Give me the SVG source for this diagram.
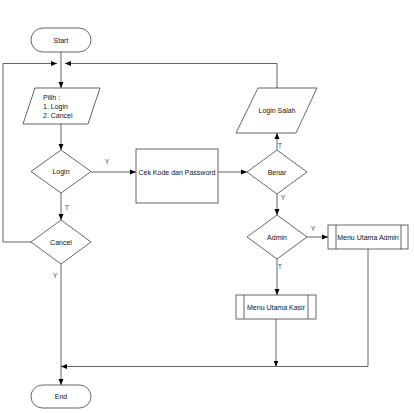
<svg xmlns="http://www.w3.org/2000/svg" width="414" height="413" viewBox="0 0 414 413">
<style>
.s{fill:#fff;stroke:#404040;stroke-width:0.8}
.c{fill:none;stroke:#404040;stroke-width:0.8}
text{font-family:"Liberation Sans",Arial,sans-serif;font-size:7px;fill:#111}
.m{text-anchor:middle}
.l{fill:#555}
</style>
<defs>
<marker id="a" viewBox="0 0 6 6" refX="6" refY="3" markerWidth="6" markerHeight="6" markerUnits="userSpaceOnUse" orient="auto">
<path d="M0,0.5 L6,3 L0,5.5 Z" fill="#000"/>
</marker>
</defs>
<rect width="414" height="413" fill="#fff"/>
<g id="connectors">
<path class="c" d="M61,52 V88" marker-end="url(#a)"/>
<path class="c" d="M31,242 H3 V63.5 H57" marker-end="url(#a)"/>
<path class="c" d="M277,88 V63.5 H65" marker-end="url(#a)"/>
<path class="c" d="M61,124 V150" marker-end="url(#a)"/>
<path class="c" d="M91,172 H136" marker-end="url(#a)"/>
<path class="c" d="M61,193 V220" marker-end="url(#a)"/>
<path class="c" d="M218,172 H247" marker-end="url(#a)"/>
<path class="c" d="M277,150 V133" marker-end="url(#a)"/>
<path class="c" d="M277,194 V215" marker-end="url(#a)"/>
<path class="c" d="M307,237 H328" marker-end="url(#a)"/>
<path class="c" d="M277,259 V295" marker-end="url(#a)"/>
<path class="c" d="M276,319 V366.5" marker-end="url(#a)"/>
<path class="c" d="M368,249 V366.5 H61" marker-end="url(#a)"/>
<path class="c" d="M61,264 V385" marker-end="url(#a)"/>
<text x="107" y="164" class="m l">Y</text>
<text x="67" y="210" class="m l">T</text>
<text x="50" y="235" class="m l">T</text>
<text x="55" y="278" class="m l">Y</text>
<text x="280" y="148" class="m l">T</text>
<text x="283" y="200" class="m l">Y</text>
<text x="313" y="231" class="m l">Y</text>
<text x="280" y="269" class="m l">T</text>
</g>
<g id="start">
<rect class="s" x="31" y="28" width="60" height="24" rx="12"/>
<text x="61" y="42.5" class="m">Start</text>
</g>
<g id="pilih">
<polygon class="s" points="35,88 100,88 88,124 23,124"/>
<text x="43" y="100">Pilih :</text>
<text x="43" y="109">1. Login</text>
<text x="43" y="118">2. Cancel</text>
</g>
<g id="login">
<polygon class="s" points="61,150 91,171.5 61,193 31,171.5"/>
<text x="61" y="174" class="m">Login</text>
</g>
<g id="cancel">
<polygon class="s" points="61,220 91,242 61,264 31,242"/>
<text x="61" y="244.5" class="m">Cancel</text>
</g>
<g id="cek">
<rect class="s" x="136" y="149" width="82" height="54"/>
<text x="177" y="174.5" class="m">Cek Kode dan Password</text>
</g>
<g id="benar">
<polygon class="s" points="277,150 307,172 277,194 247,172"/>
<text x="277" y="174.5" class="m">Benar</text>
</g>
<g id="loginsalah">
<polygon class="s" points="258,88 317,88 296,133 236,133"/>
<text x="277" y="113" class="m">Login Salah</text>
</g>
<g id="admin">
<polygon class="s" points="277,215 307,237 277,259 247,237"/>
<text x="277" y="239.5" class="m">Admin</text>
</g>
<g id="menuadmin">
<rect class="s" x="328" y="225" width="80" height="24"/>
<line class="c" x1="336" y1="225" x2="336" y2="249"/>
<line class="c" x1="401" y1="225" x2="401" y2="249"/>
<text x="368" y="239.5" class="m">Menu Utama Admin</text>
</g>
<g id="menukasir">
<rect class="s" x="236" y="295" width="80" height="24"/>
<line class="c" x1="244" y1="295" x2="244" y2="319"/>
<line class="c" x1="308" y1="295" x2="308" y2="319"/>
<text x="276" y="309.5" class="m">Menu Utama Kasir</text>
</g>
<g id="end">
<rect class="s" x="31" y="385" width="60" height="23" rx="11.5"/>
<text x="61" y="399" class="m">End</text>
</g>
</svg>
